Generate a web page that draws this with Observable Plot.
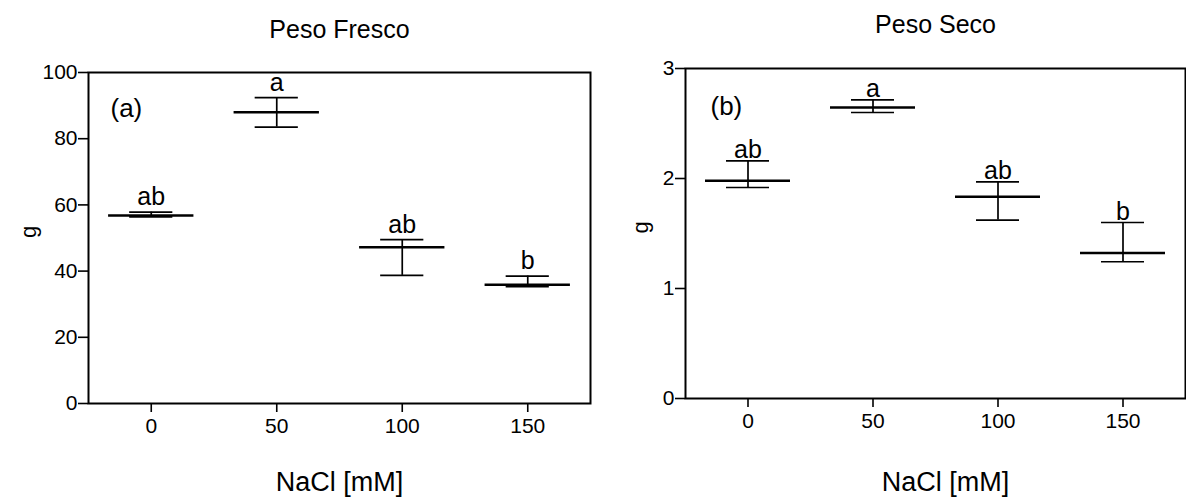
<!DOCTYPE html>
<html>
<head>
<meta charset="utf-8">
<script src="https://cdn.jsdelivr.net/npm/d3@7"></script>
<script src="https://cdn.jsdelivr.net/npm/@observablehq/plot@0.6"></script>
<style>
  html, body { margin: 0; padding: 0; background: #fff; }
  #row { display: flex; width: 1186px; height: 497px; }
  #row svg { display: block; }
</style>
</head>
<body>
<div id="row"></div>
<script>
// ---- data ----
const nacl = [0, 50, 100, 150];
const xTicks = [0, 50, 100, 150];

const frescoMean = [56.8, 88.0, 47.2, 35.9];
const frescoUpper = [57.8, 92.4, 49.5, 38.5];
const frescoLower = [56.4, 83.5, 38.7, 35.3];
const frescoLetters = ["ab", "a", "ab", "b"];
const frescoTicks = [0, 20, 40, 60, 80, 100];

const secoMean = [1.98, 2.645, 1.834, 1.322];
const secoUpper = [2.16, 2.715, 1.97, 1.60];
const secoLower = [1.918, 2.60, 1.622, 1.243];
const secoLetters = ["ab", "a", "ab", "b"];
const secoTicks = [0, 1, 2, 3];

const titles = ["Peso Fresco", "Peso Seco"];
const tags = ["(a)", "(b)"];
const xLabel = "NaCl [mM]";
const yLabel = "g";

// ---- drawing ----
const FONT = "'Liberation Sans', Arial, Helvetica, sans-serif";
const MEAN_HALF = 17;  // half-width of mean line, in x units
const CAP_HALF = 8.6;  // half-width of error caps, in x units

function panel(o) {
  const rows = nacl.map((x, i) => ({
    x, mean: o.mean[i], upper: o.upper[i], lower: o.lower[i], letter: o.letters[i]
  }));
  return Plot.plot({
    width: 593,
    height: 497,
    marginLeft: o.marginLeft,
    marginRight: o.marginRight,
    marginTop: o.marginTop,
    marginBottom: o.marginBottom,
    style: { fontFamily: FONT, fontSize: "21px", color: "black", background: "white", overflow: "visible" },
    x: { domain: [-25, 175], label: null },
    y: { domain: o.yDomain, label: null },
    marks: [
      Plot.frame({ stroke: "black", strokeWidth: 2 }),
      Plot.axisX({ ticks: xTicks, tickFormat: d => String(d), tickSize: 9, tickPadding: 6, strokeWidth: 1.6, label: null }),
      Plot.axisY({ ticks: o.yTicks, tickFormat: d => String(d), tickSize: 10, tickPadding: 1, strokeWidth: 1.6, label: null }),
      Plot.ruleX(rows, { x: "x", y1: "lower", y2: "upper", stroke: "black", strokeWidth: 1.7 }),
      Plot.ruleY(rows, { y: "upper", x1: d => d.x - CAP_HALF, x2: d => d.x + CAP_HALF, stroke: "black", strokeWidth: 1.7 }),
      Plot.ruleY(rows, { y: "lower", x1: d => d.x - CAP_HALF, x2: d => d.x + CAP_HALF, stroke: "black", strokeWidth: 1.7 }),
      Plot.ruleY(rows, { y: "mean", x1: d => d.x - MEAN_HALF, x2: d => d.x + MEAN_HALF, stroke: "black", strokeWidth: 2.5 }),
      Plot.text(rows, { x: "x", y: "upper", text: "letter", lineAnchor: "bottom", dy: o.letterDy, fontSize: 25, fill: "black" }),
      Plot.text([o.tag], { frameAnchor: "top-left", text: d => d, textAnchor: "start", lineAnchor: "bottom", dx: o.tagDx, dy: o.tagDy, fontSize: 26, fill: "black" }),
      Plot.text([o.title], { frameAnchor: "top", text: d => d, lineAnchor: "bottom", dy: o.titleDy, fontSize: 25, letterSpacing: "-0.6px", fill: "black" }),
      Plot.text([xLabel], { frameAnchor: "bottom", text: d => d, lineAnchor: "bottom", dx: o.xLabelDx, dy: o.xLabelDy, fontSize: 27, letterSpacing: "-0.4px", fill: "black" }),
      Plot.text([yLabel], { frameAnchor: "left", text: d => d, rotate: -90, dx: o.yLabelDx, fontSize: 22, fill: "black" })
    ]
  });
}

const row = document.getElementById("row");
row.append(panel({
  marginLeft: 88, marginRight: 3, marginTop: 72, marginBottom: 94,
  yDomain: [0, 100], yTicks: frescoTicks,
  mean: frescoMean, upper: frescoUpper, lower: frescoLower, letters: frescoLetters,
  title: titles[0], tag: tags[0],
  letterDy: -7, tagDx: 22, tagDy: 44, titleDy: -35, xLabelDx: 0, xLabelDy: 87, yLabelDx: -60
}));
row.append(panel({
  marginLeft: 92, marginRight: 1, marginTop: 68, marginBottom: 99,
  yDomain: [0, 3], yTicks: secoTicks,
  mean: secoMean, upper: secoUpper, lower: secoLower, letters: secoLetters,
  title: titles[1], tag: tags[1],
  letterDy: -3, tagDx: 25, tagDy: 46, titleDy: -36, xLabelDx: 10, xLabelDy: 92, yLabelDx: -45
}));
</script>
</body>
</html>
